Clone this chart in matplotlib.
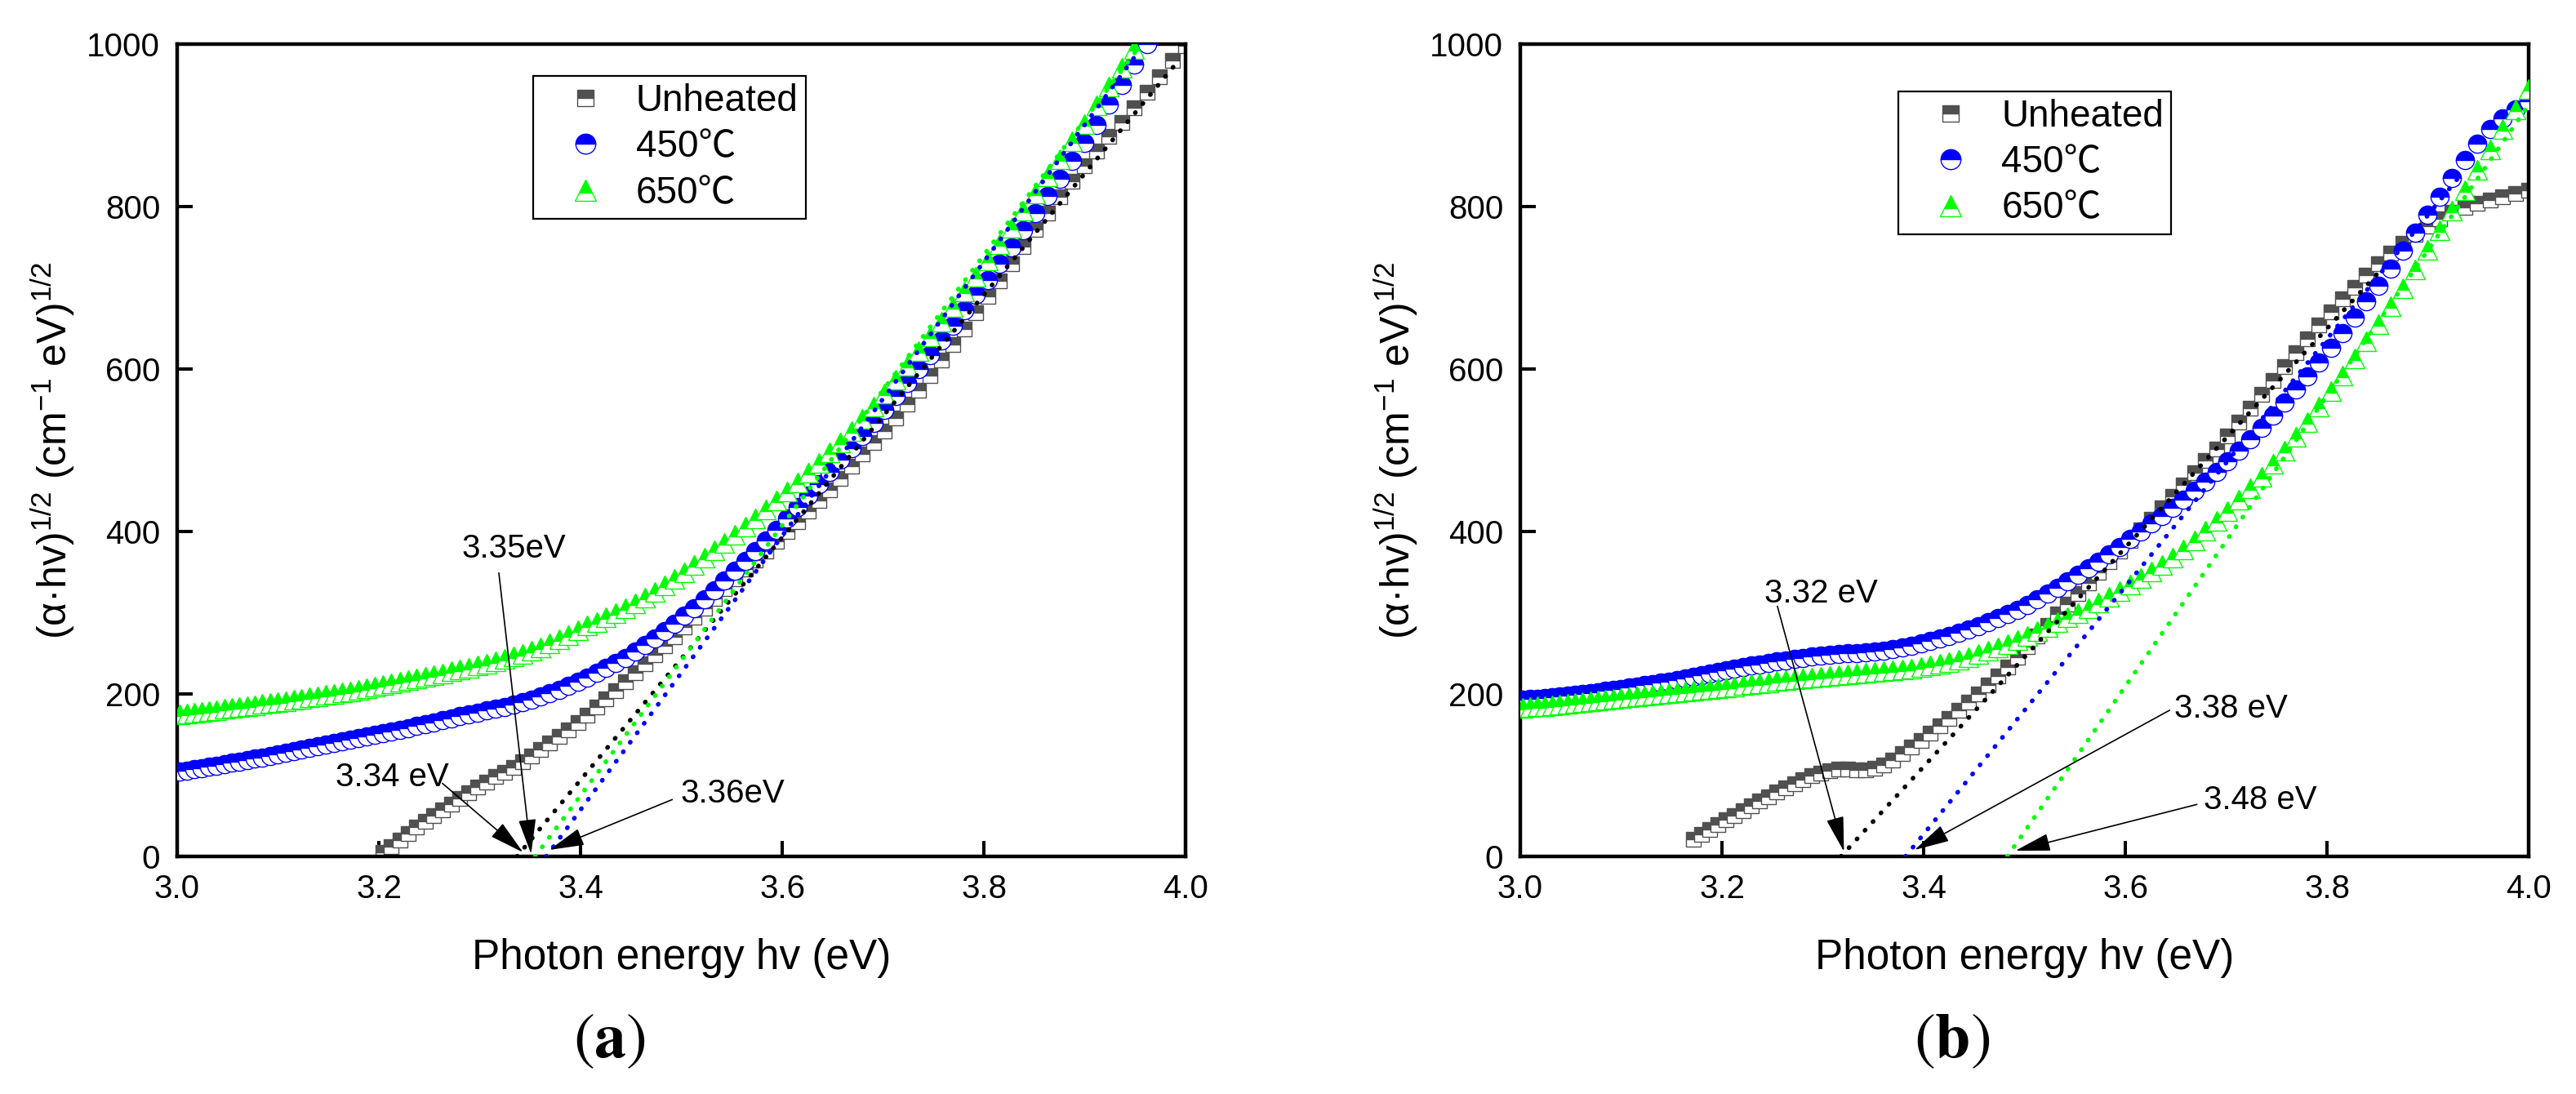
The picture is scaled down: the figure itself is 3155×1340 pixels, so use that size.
import numpy as np
import matplotlib
matplotlib.use('Agg')
import matplotlib.pyplot as plt

plt.rcParams['font.family'] = ['Liberation Sans', 'Noto Sans CJK SC', 'DejaVu Sans']
plt.rcParams['mathtext.fontset'] = 'custom'
plt.rcParams['mathtext.rm'] = 'Liberation Sans'
plt.rcParams['mathtext.it'] = 'Liberation Sans:italic'
plt.rcParams['mathtext.bf'] = 'Liberation Sans:bold'

# measurement grid: 1 nm steps, photon energy E = 1240 / lambda
wavelength_nm = np.arange(413, 309, -1)
energy = 1240.0 / wavelength_nm

labels = ['Unheated', '450℃', '650℃']

# (a) values, aligned to the high-energy end of the grid
unheated_a = [5, 12, 20, 28, 36, 43, 50, 57, 64, 71,
              78, 85, 91, 98, 104, 110, 117, 124, 132, 140,
              148, 156, 165, 174, 184, 194, 204, 215, 226, 237,
              248, 259, 270, 282, 294, 306, 318, 330, 342, 354,
              365, 376, 388, 400, 412, 425, 438, 451, 465, 480,
              495, 510, 524, 540, 557, 574, 592, 611, 630, 649,
              669, 689, 709, 730, 751, 772, 792, 812, 831, 850,
              868, 886, 904, 922, 941, 960, 980, 998]
t450_a = [105, 106, 108, 109, 111, 112, 114, 116, 117, 119,
          121, 122, 124, 126, 128, 130, 132, 134, 136, 138,
          140, 142, 144, 146, 148, 150, 152, 154, 156, 158,
          161, 163, 165, 168, 170, 173, 175, 177, 180, 182,
          184, 187, 190, 193, 197, 201, 205, 210, 215, 220,
          226, 232, 238, 244, 252, 260, 268, 277, 286, 296,
          306, 317, 328, 340, 352, 364, 376, 389, 402, 416,
          430, 444, 458, 473, 488, 503, 518, 534, 550, 567,
          583, 600, 617, 635, 653, 672, 691, 710, 730, 750,
          771, 792, 813, 834, 856, 878, 901, 926, 950, 975,
          1000, 1024, 1048, 1072]
t650_a = [175, 176, 177, 178, 179, 180, 182, 183, 184, 185,
          186, 188, 189, 190, 191, 193, 194, 196, 197, 199,
          200, 202, 203, 205, 207, 209, 211, 213, 215, 217,
          219, 221, 223, 225, 228, 230, 232, 235, 237, 240,
          243, 246, 249, 253, 257, 262, 267, 272, 278, 284,
          288, 294, 300, 306, 312, 319, 326, 334, 342, 350,
          359, 368, 377, 386, 396, 406, 416, 427, 438, 449,
          460, 472, 484, 497, 510, 524, 539, 554, 570, 587,
          604, 622, 640, 658, 676, 695, 714, 734, 754, 774,
          795, 816, 837, 858, 880, 902, 925, 948, 971, 994,
          1017, 1040, 1063, 1086]

# (b) values
unheated_b = [21, 27, 33, 39, 45, 50, 56, 62, 68, 73,
              79, 84, 89, 94, 99, 103, 106, 108, 108, 107,
              107, 109, 113, 119, 127, 135, 143, 152, 161, 170,
              180, 190, 200, 211, 222, 233, 245, 258, 271, 284,
              298, 311, 324, 337, 350, 363, 376, 389, 402, 415,
              429, 443, 457, 472, 487, 502, 518, 535, 552, 569,
              586, 603, 620, 637, 654, 670, 686, 701, 716, 730,
              743, 755, 766, 776, 785, 793, 799, 804, 808, 812,
              816, 820]
t450_b = [193, 194, 194, 195, 196, 197, 198, 199, 200, 201,
          202, 204, 205, 206, 208, 209, 211, 212, 214, 215,
          217, 219, 221, 223, 225, 227, 229, 231, 233, 235,
          236, 238, 240, 241, 243, 244, 246, 247, 248, 249,
          250, 250, 251, 252, 253, 255, 257, 259, 262, 265,
          268, 271, 275, 279, 283, 288, 293, 298, 304, 310,
          317, 324, 331, 339, 347, 355, 363, 372, 381, 391,
          400, 410, 419, 429, 439, 450, 461, 473, 486, 500,
          514, 528, 543, 559, 575, 591, 608, 626, 644, 663,
          683, 703, 724, 746, 768, 790, 812, 835, 857, 877,
          895, 909, 920, 930]
t650_b = [183, 184, 185, 185, 186, 187, 188, 189, 190, 191,
          192, 193, 194, 195, 196, 197, 198, 199, 200, 201,
          202, 203, 204, 205, 206, 207, 208, 209, 211, 212,
          213, 214, 216, 217, 218, 219, 220, 221, 222, 223,
          224, 225, 226, 227, 228, 229, 230, 231, 233, 235,
          237, 239, 242, 245, 249, 253, 257, 261, 266, 271,
          277, 282, 288, 294, 300, 306, 313, 320, 327, 335,
          343, 351, 359, 368, 378, 389, 401, 413, 425, 439,
          453, 467, 483, 500, 517, 535, 554, 573, 592, 613,
          634, 655, 677, 700, 723, 747, 771, 795, 820, 845,
          870, 895, 920, 945]

# linear extrapolations: (x intercept, x end, y end)
fits_a = [(3.337, 3.99, 975), (3.366, 3.95, 985), (3.355, 3.95, 990)]
fits_b = [(3.318, 3.852, 720), (3.382, 3.93, 835), (3.483, 4.0, 925)]

# band gap labels: text, text centre, arrow tail, arrow head
notes_a = [('3.35eV', (3.334, 379), (3.319, 349), (3.351, 3)),
           ('3.34 eV', (3.213, 97), (3.263, 90), (3.343, 5)),
           ('3.36eV', (3.551, 77), (3.491, 70), (3.369, 8))]
notes_b = [('3.32 eV', (3.298, 324), (3.255, 308), (3.321, 6)),
           ('3.38 eV', (3.705, 182), (3.644, 180), (3.391, 8)),
           ('3.48 eV', (3.734, 69), (3.671, 64), (3.491, 7))]

colors = ['#505050', '#0000ff', '#00ff00']
fit_colors = ['black', '#0000ff', '#00ff00']
markers = ['s', 'o', '^']
msizes = [13.5, 16, 17]


def draw_panel(ax, series, fits, notes, leg_anchor):
    for i, y in enumerate(series):
        ax.plot(energy[-len(y):], y, linestyle='none', marker=markers[i],
                ms=msizes[i], mfc=colors[i], mfcalt='white', mec=colors[i],
                mew=1.0, fillstyle='top', label=labels[i], zorder=2 + i)
    for (x0, x1, y1), c in zip(fits, fit_colors):
        ax.plot([x0, x1], [0, y1], color=c, lw=4, linestyle=(0, (0.1, 2.5)),
                dash_capstyle='round', zorder=6)
    for text, tpos, tail, head in notes:
        ax.text(tpos[0], tpos[1], text, ha='center', va='center', fontsize=29, zorder=7)
        ax.annotate('', xy=head, xytext=tail, zorder=7,
                    arrowprops=dict(arrowstyle='-|>,head_length=1.0,head_width=0.25',
                                    color='black', lw=1.2, shrinkA=0, shrinkB=0,
                                    mutation_scale=27))
    ax.set_xlim(3.0, 4.0)
    ax.set_ylim(0, 1000)
    ax.set_xticks(np.arange(3.0, 4.01, 0.2))
    ax.set_xticklabels(['%.1f' % v for v in np.arange(3.0, 4.01, 0.2)])
    ax.set_yticks(np.arange(0, 1001, 200))
    ax.tick_params(direction='in', length=13.7, width=2.9, labelsize=29, pad=15,
                   top=False, right=False)
    for s in ax.spines.values():
        s.set_linewidth(3.2)
    ax.set_xlabel('Photon energy hv (eV)', fontsize=37, labelpad=30)
    ax.set_ylabel('(α·hv)$^{1/2}$ (cm$^{-1}$ eV)$^{1/2}$', fontsize=36, labelpad=8)
    leg = ax.legend(loc='upper left', bbox_to_anchor=leg_anchor, fontsize=33,
                    frameon=True, fancybox=False, edgecolor='black', framealpha=1,
                    borderpad=0.2, handlelength=2.4, handletextpad=0.15,
                    labelspacing=0.27, borderaxespad=0, numpoints=1, markerscale=1.1)
    leg.get_frame().set_linewidth(1.6)


fig = plt.figure(figsize=(31.55, 13.4), dpi=100)
ax_a = fig.add_axes([217 / 3155, 1 - 1049 / 1340, 1235 / 3155, 995 / 1340])
ax_b = fig.add_axes([1862 / 3155, 1 - 1049 / 1340, 1235 / 3155, 995 / 1340])

draw_panel(ax_a, [unheated_a, t450_a, t650_a], fits_a, notes_a, (0.353, 0.961))
draw_panel(ax_b, [unheated_b, t450_b, t650_b], fits_b, notes_b, (0.375, 0.942))

fig.text(746 / 3155, 1 - 1275 / 1340, r'$(\mathbf{a})$', math_fontfamily='stix',
         fontsize=56, ha='center', va='center')
fig.text(2391 / 3155, 1 - 1275 / 1340, r'$(\mathbf{b})$', math_fontfamily='stix',
         fontsize=56, ha='center', va='center')

fig.savefig('out.png', dpi=100)
